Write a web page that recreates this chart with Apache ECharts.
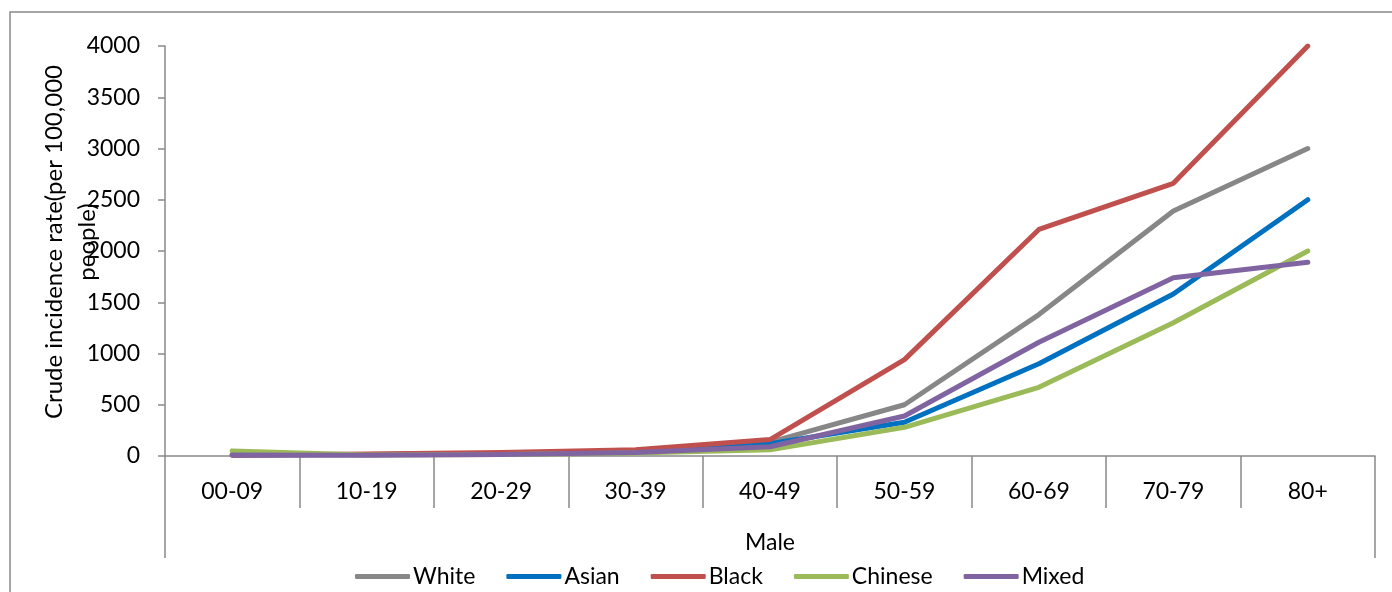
<!DOCTYPE html>
<html>
<head>
<meta charset="utf-8">
<title>Crude incidence rate by age group — Male</title>
<script src="https://cdn.jsdelivr.net/npm/echarts@6/dist/echarts.min.js"></script>
<style>
  html, body { margin: 0; padding: 0; background: #ffffff; }
  #chart { width: 1392px; height: 592px; }
</style>
</head>
<body>
<div id="chart"></div>
<script>
// Age bands (category axis) and the grouping label under them
const ageGroups = ['00-09', '10-19', '20-29', '30-39', '40-49', '50-59', '60-69', '70-79', '80+'];
const groupLabel = ['Male'];

// Crude incidence rate per 100,000 people, by ethnic group
const white   = [10, 12, 25, 45, 135, 500, 1380, 2390, 3000];
const asian   = [10, 15, 25, 45, 120, 330, 900, 1580, 2500];
const black   = [8, 20, 35, 60, 160, 940, 2210, 2660, 4000];
const chinese = [50, 10, 15, 30, 60, 280, 670, 1300, 2000];
const mixed   = [10, 8, 15, 35, 90, 390, 1110, 1740, 1890];

const seriesNames = ['White', 'Asian', 'Black', 'Chinese', 'Mixed'];
const seriesValues = [white, asian, black, chinese, mixed];
const seriesColors = ['#878787', '#0070C0', '#C0504D', '#9BBB59', '#8064A2'];

const yTitle = 'Crude incidence rate(per 100,000\npeople)';

const FONT = 'Lato, "Open Sans", sans-serif';
const AXIS_GRAY = '#898989';

const chart = echarts.init(document.getElementById('chart'), null, { renderer: 'canvas' });

const option = {
  backgroundColor: '#ffffff',
  animation: false,
  textStyle: { fontFamily: FONT },
  grid: { left: 165, right: 17, top: 46, bottom: 136, containLabel: false },
  graphic: [
    {
      type: 'rect',
      shape: { x: 10, y: 12, width: 1400, height: 600 },
      style: { fill: 'none', stroke: AXIS_GRAY, lineWidth: 1.5 },
      silent: true,
      z: -10
    },
    {
      type: 'text',
      x: 71,
      y: 242,
      rotation: Math.PI / 2,
      style: {
        text: yTitle,
        font: '24px ' + FONT,
        fill: '#000000',
        align: 'center',
        verticalAlign: 'middle',
        lineHeight: 33
      },
      silent: true
    }
  ],
  legend: {
    data: seriesNames,
    icon: 'roundRect',
    left: 350,
    top: 560,
    itemWidth: 55,
    itemHeight: 5,
    itemGap: 31,
    textStyle: { fontFamily: FONT, fontSize: 23, color: '#000000', padding: [0, 0, 0, -2] }
  },
  xAxis: [
    {
      type: 'category',
      data: ageGroups,
      boundaryGap: true,
      axisLine: { show: true, lineStyle: { color: AXIS_GRAY, width: 1.5 } },
      axisTick: { show: true, length: 52, interval: 0, lineStyle: { color: AXIS_GRAY, width: 1.5 } },
      axisLabel: { interval: 0, margin: 24, fontFamily: FONT, fontSize: 23, color: '#000000' },
      splitLine: { show: false }
    },
    {
      type: 'category',
      data: groupLabel,
      position: 'bottom',
      offset: 52,
      boundaryGap: true,
      axisLine: { show: false },
      axisTick: { show: true, length: 50, lineStyle: { color: AXIS_GRAY, width: 1.5 } },
      axisLabel: { margin: 23, fontFamily: FONT, fontSize: 23, color: '#000000' },
      splitLine: { show: false }
    }
  ],
  yAxis: {
    type: 'value',
    min: 0,
    max: 4000,
    interval: 500,
    axisLine: { show: true, lineStyle: { color: AXIS_GRAY, width: 1.5 } },
    axisTick: { show: true, length: 7, lineStyle: { color: AXIS_GRAY, width: 1.5 } },
    axisLabel: {
      margin: 25,
      fontFamily: FONT,
      fontSize: 23,
      color: '#000000',
      formatter: (v) => String(v)
    },
    splitLine: { show: false }
  },
  series: seriesNames.map((name, i) => ({
    name: name,
    type: 'line',
    xAxisIndex: 0,
    data: seriesValues[i],
    symbol: 'none',
    showSymbol: false,
    smooth: false,
    color: seriesColors[i],
    itemStyle: { color: seriesColors[i] },
    lineStyle: { width: 5, color: seriesColors[i], cap: 'round', join: 'round' },
    emphasis: { disabled: true }
  }))
};

chart.setOption(option);
</script>
</body>
</html>
